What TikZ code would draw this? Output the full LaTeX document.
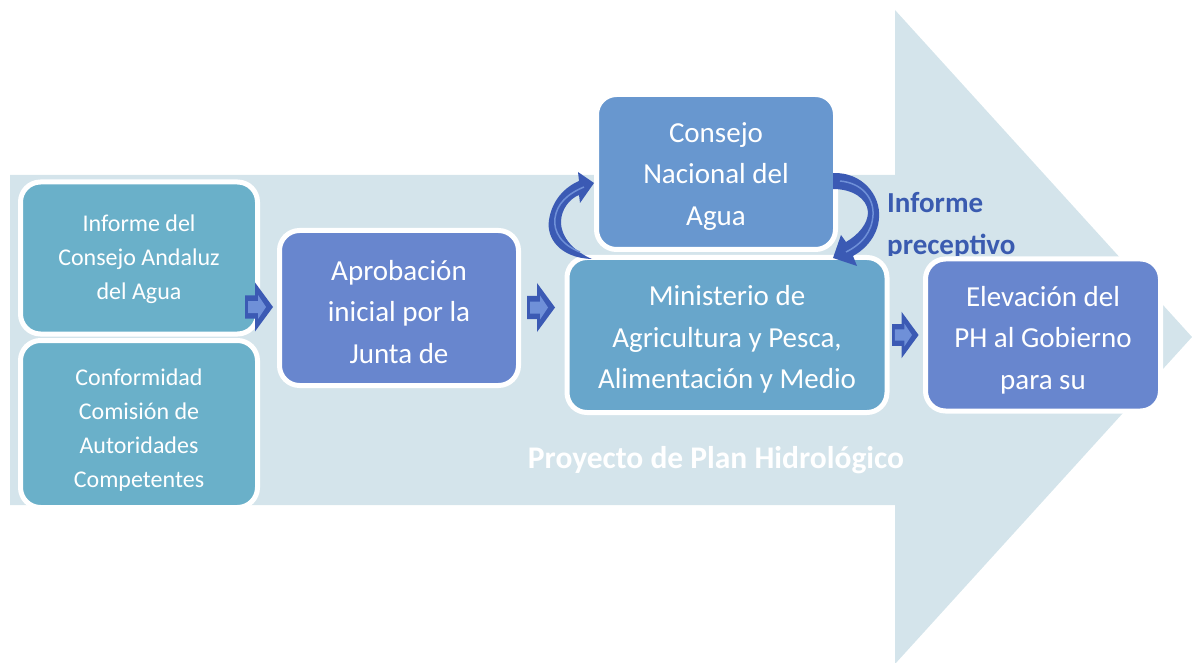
\documentclass[tikz,border=0pt]{standalone}
\usepackage{fontspec}
\setmainfont{Carlito}
\usetikzlibrary{calc}
\definecolor{cBg}{HTML}{D4E4EB}
\definecolor{cTeal}{HTML}{6AB0C9}
\definecolor{cApro}{HTML}{6886CE}
\definecolor{cCons}{HTML}{6897CF}
\definecolor{cMin}{HTML}{68A6CB}
\definecolor{cDark}{HTML}{3B5AB4}
\definecolor{cLight}{HTML}{6F90D8}
\definecolor{cText}{HTML}{3A5BB0}
\tikzset{
  box/.style={draw=white, line width=5pt, rounded corners=20pt, inner sep=0pt},
  boxtext/.style={inner sep=0pt, align=center, text=white},
  smalltxt/.style={font=\fontsize{24}{34}\selectfont},
  bigtxt/.style={font=\fontsize{29}{41.5}\selectfont},
  blockarr/.pic={
    \fill[cDark] (0,-11.5) -- (10,-11.5) -- (10,-24.5) -- (28,0) -- (10,24.5) -- (10,11.5) -- (0,11.5) -- cycle;
    \fill[cLight] (3,-6) -- (13,-6) -- (13,-12) -- (21,0) -- (13,12) -- (13,6) -- (3,6) -- cycle;
  }
}
\begin{document}
\begin{tikzpicture}[x=1pt,y=-1pt]
\useasboundingbox (0,0) rectangle (1192,663);
% big background arrow
\fill[cBg] (10,175) -- (895,175) -- (895,10) -- (1192,337) -- (895,664) -- (895,505) -- (10,505) -- cycle;
% boxes
\node[box, fill=cTeal, minimum width=237pt, minimum height=152pt] (b1) at (139,258) {};
\node[boxtext, smalltxt] (b1t) at ($(b1.center)+(0,1.5)$) {Informe del\\Consejo Andaluz\\del Agua};
\node[box, fill=cTeal, minimum width=237pt, minimum height=167pt] (b2) at (139,424) {};
\node[boxtext, smalltxt] (b2t) at ($(b2.center)+(0,6)$) {Conformidad\\Comisión de\\Autoridades\\Competentes};
\node[box, fill=cApro, minimum width=239pt, minimum height=155pt] (apro) at (399,308) {};
\node[boxtext, bigtxt] (aprot) at ($(apro.center)+(0,4)$) {Aprobación\\inicial por la\\Junta de};
\node[box, fill=cCons, minimum width=239pt, minimum height=155pt] (cna) at (716,172) {};
\node[boxtext, bigtxt] (cnat) at ($(cna.center)+(0,4.5)$) {Consejo\\Nacional del\\Agua};
\node[box, fill=cMin, minimum width=320pt, minimum height=155pt] (mini) at (727,335) {};
\node[boxtext, bigtxt] (minit) at ($(mini.center)+(0,4.5)$) {Ministerio de\\Agricultura y Pesca,\\Alimentación y Medio};
\node[box, fill=cApro, minimum width=235pt, minimum height=152pt] (elev) at (1043,335) {};
\node[boxtext, bigtxt] (elevt) at ($(elev.center)+(0,5)$) {Elevación del\\PH al Gobierno\\para su};
% small block arrows
\pic at (245,307) {blockarr};
\pic at (527,307.5) {blockarr};
\pic[scale=0.95] at (892,335) {blockarr};
% curved arrow left (Ministerio -> Consejo)
\fill[cDark] (592,259) .. controls (560,258) and (546,238) .. (549,220)
  .. controls (552,200) and (565,187) .. (579,181) -- (578,172) -- (594,183) -- (580,203) -- (579,195)
  .. controls (569,199) and (561,210) .. (561,222) .. controls (561,238) and (575,252) .. (592,259) -- cycle;
\draw[cLight, line width=1.5pt] (580,252) .. controls (562,245) and (553,232) .. (555,218) .. controls (557,204) and (567,194) .. (584,187);
% curved arrow right (Consejo -> Ministerio)
\fill[cDark] (833,173) .. controls (862,172) and (881,195) .. (879,218)
  .. controls (878,235) and (866,249) .. (853,256) -- (857,266) -- (833,258) -- (841,235) -- (846,242)
  .. controls (858,235) and (868,224) .. (868,212) .. controls (867,198) and (852,189) .. (833,189) -- cycle;
\draw[cLight, line width=1.5pt] (840,181) .. controls (862,183) and (874,198) .. (873,215) .. controls (872,232) and (862,244) .. (846,252);
% labels
\begin{scope}
\clip (880,150) rectangle (1060,256);
\node[font=\bfseries\fontsize{29}{42}\selectfont, text=cText, anchor=base west, inner sep=0pt] (inf1) at (887,213) {Informe};
\node[font=\bfseries\fontsize{29}{42}\selectfont, text=cText, anchor=base west, inner sep=0pt] (inf2) at (887,255) {preceptivo};
\end{scope}
\node[font=\bfseries\fontsize{31.5}{38}\selectfont, text=white, anchor=base, inner sep=0pt] (proy) at (716,468) {Proyecto de Plan Hidrológico};
\end{tikzpicture}
\end{document}
